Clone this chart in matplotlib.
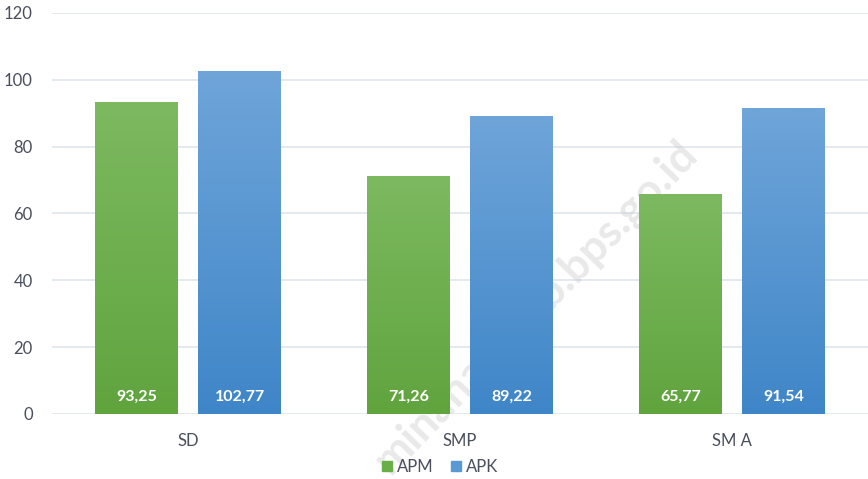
import numpy as np
import matplotlib
matplotlib.use('Agg')
import matplotlib.pyplot as plt
from matplotlib.colors import LinearSegmentedColormap
from matplotlib.patches import Patch

# data
categories = ['SD', 'SMP', 'SM A']
apm = [93.25, 71.26, 65.77]
apk = [102.77, 89.22, 91.54]
apm_labels = ['93,25', '71,26', '65,77']
apk_labels = ['102,77', '89,22', '91,54']

plt.rcParams['font.family'] = ['Lato', 'DejaVu Sans']

fig = plt.figure(figsize=(8.68, 4.79), dpi=100)
ax = fig.add_axes([0.06, 0.1357, 0.94, 0.8373])

x = np.arange(len(categories))
w = 0.305
off = 0.19

green_cm = LinearSegmentedColormap.from_list('g', ['#60a43e', '#7db960'])
blue_cm = LinearSegmentedColormap.from_list('b', ['#3f86c8', '#6fa5d9'])

grad = np.linspace(0, 1, 256).reshape(-1, 1)

def gradient_bars(xs, vals, cmap):
    bars = ax.bar(xs, vals, w, color='none', zorder=3)
    for b in bars:
        x0, y0 = b.get_x(), b.get_y()
        im = ax.imshow(grad, cmap=cmap, aspect='auto', origin='lower',
                       extent=[x0, x0 + b.get_width(), y0, y0 + b.get_height()],
                       zorder=3)
        im.set_clip_path(b)
    return bars

gradient_bars(x - off, apm, green_cm)
gradient_bars(x + off, apk, blue_cm)

for i in range(len(categories)):
    ax.text(x[i] - off, 5, apm_labels[i], ha='center', va='center',
            color='white', fontsize=11.5, fontweight='bold', zorder=4)
    ax.text(x[i] + off, 5, apk_labels[i], ha='center', va='center',
            color='white', fontsize=11.5, fontweight='bold', zorder=4)

ax.set_xlim(-0.5, 2.5)
ax.set_ylim(0, 120)
ax.set_yticks(range(0, 121, 20))
ax.set_xticks(x)
ax.set_xticklabels(categories)
ax.yaxis.grid(True, color='#e4e8ef', linewidth=1.4, zorder=0)
ax.set_axisbelow(True)
for s in ax.spines.values():
    s.set_visible(False)
ax.tick_params(axis='both', length=0, labelsize=12, colors='#4a4f5e')
ax.tick_params(axis='y', pad=14)
ax.tick_params(axis='x', pad=14)

handles = [Patch(color='#6aae48', label='APM'), Patch(color='#5a9ad4', label='APK')]
fig.legend(handles=handles, loc='center', bbox_to_anchor=(0.507, 0.025), ncol=2,
           frameon=False, fontsize=12, handlelength=0.6, handleheight=0.6,
           handletextpad=0.3, columnspacing=1.0, labelcolor='#4a4f5e')

# watermark, behind the bars
ax.text(0.617, 0.36, 'minahasakab.bps.go.id', transform=fig.transFigure,
        rotation=46, fontsize=32, fontweight='bold', color='#c8c8c8', alpha=0.4,
        ha='center', va='center', zorder=1, clip_on=False)

fig.savefig('out.png', dpi=100)
